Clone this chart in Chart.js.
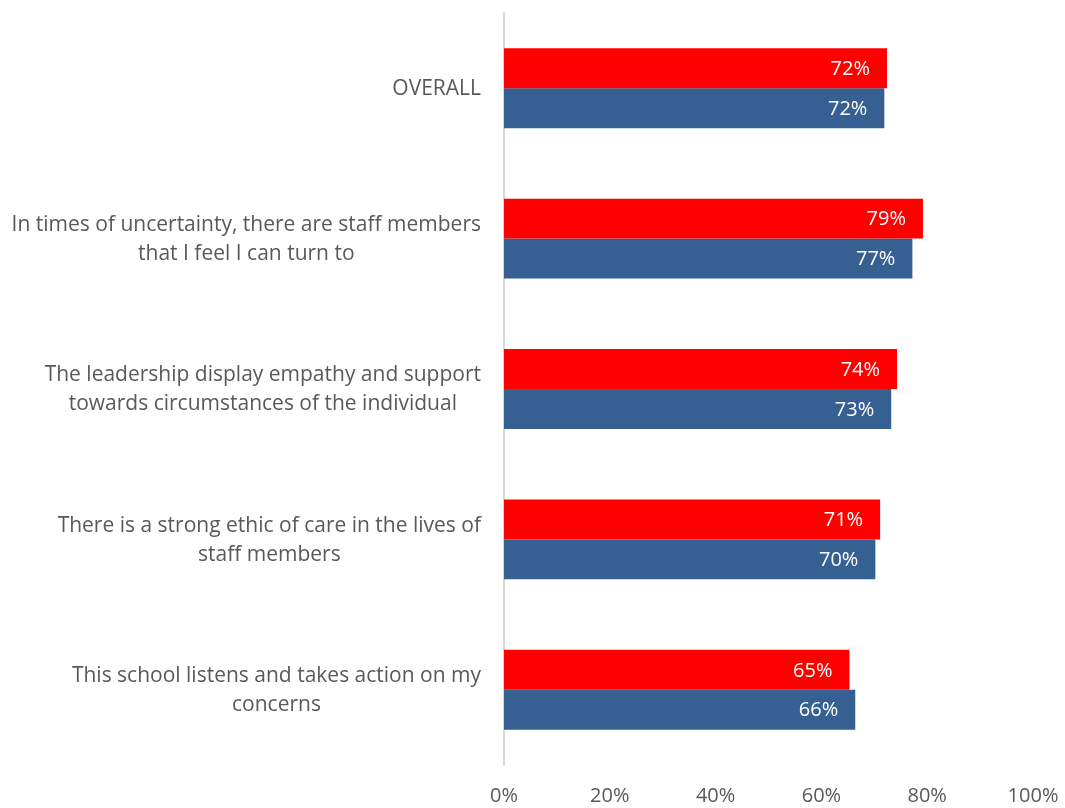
<!DOCTYPE html>
<html>
<head>
<meta charset="utf-8">
<script src="https://cdn.jsdelivr.net/npm/chart.js@4.4.1/dist/chart.umd.min.js"></script>
<style>
  html, body { margin: 0; padding: 0; background: #fff; }
  #wrap { width: 1065px; height: 808px; }
</style>
</head>
<body>
<div id="wrap"><canvas id="c" width="1065" height="808"></canvas></div>
<script>
  const categories = [
    ["OVERALL"],
    ["In times of uncertainty, there are staff members", "that I feel I can turn to"],
    ["The leadership display empathy and support", "towards circumstances of the individual"],
    ["There is a strong ethic of care in the lives of", "staff members"],
    ["This school listens and takes action on my", "concerns"],
  ];
  const redValues = [72.4, 79.2, 74.3, 71.1, 65.3];
  const blueValues = [71.9, 77.2, 73.2, 70.2, 66.4];
  const xTicks = [0, 20, 40, 60, 80, 100];

  const FONT = "'Open Sans', sans-serif";
  const GREY = "#595959";

  // value labels inside the bar end, white
  const barLabels = {
    id: "barLabels",
    afterDatasetsDraw(chart) {
      const ctx = chart.ctx;
      ctx.save();
      ctx.font = `20px ${FONT}`;
      ctx.fillStyle = "#ffffff";
      ctx.textAlign = "right";
      ctx.textBaseline = "middle";
      chart.data.datasets.forEach((ds, i) => {
        chart.getDatasetMeta(i).data.forEach((bar, j) => {
          ctx.fillText(Math.round(ds.data[j]) + "%", bar.x - 17, bar.y + 1);
        });
      });
      ctx.restore();
    },
  };

  // category labels: block right-aligned to the axis, lines centred in the block
  const catLabels = {
    id: "catLabels",
    afterDraw(chart) {
      const ctx = chart.ctx;
      const y = chart.scales.y;
      const right = chart.chartArea.left - 23;
      const lh = 29;
      ctx.save();
      ctx.font = `21px ${FONT}`;
      ctx.fillStyle = GREY;
      ctx.textAlign = "center";
      ctx.textBaseline = "middle";
      categories.forEach((lines, i) => {
        const cy = y.getPixelForValue(i) + 1;
        const w = Math.max(...lines.map((l) => ctx.measureText(l).width));
        const cx = right - w / 2;
        const y0 = cy - ((lines.length - 1) * lh) / 2;
        lines.forEach((l, k) => ctx.fillText(l, cx, y0 + k * lh));
      });
      ctx.restore();
    },
  };

  new Chart(document.getElementById("c"), {
    type: "bar",
    data: {
      labels: categories.map((c) => c.join(" ")),
      datasets: [
        { label: "A", data: redValues, backgroundColor: "#ff0000" },
        { label: "B", data: blueValues, backgroundColor: "#376092" },
      ],
    },
    options: {
      indexAxis: "y",
      responsive: false,
      animation: false,
      categoryPercentage: 0.531,
      barPercentage: 1,
      layout: { padding: { top: 13, right: 32, bottom: 0, left: 0 } },
      plugins: { legend: { display: false }, tooltip: { enabled: false } },
      scales: {
        x: {
          min: 0,
          max: 100,
          afterBuildTicks: (s) => { s.ticks = xTicks.map((v) => ({ value: v })); },
          afterFit: (s) => { s.height = 43; s.paddingLeft = 0; s.paddingRight = 0; },
          ticks: {
            callback: (v) => v + "%",
            color: GREY,
            font: { family: FONT, size: 20 },
            padding: 19,
            maxRotation: 0,
          },
          grid: { display: false, drawTicks: false },
          border: { display: false },
        },
        y: {
          ticks: { display: false },
          grid: { display: false, drawTicks: false },
          border: { display: true, color: "#d9d9d9", width: 2 },
          afterFit: (s) => { s.width = 504; },
        },
      },
    },
    plugins: [barLabels, catLabels],
  });
</script>
</body>
</html>
